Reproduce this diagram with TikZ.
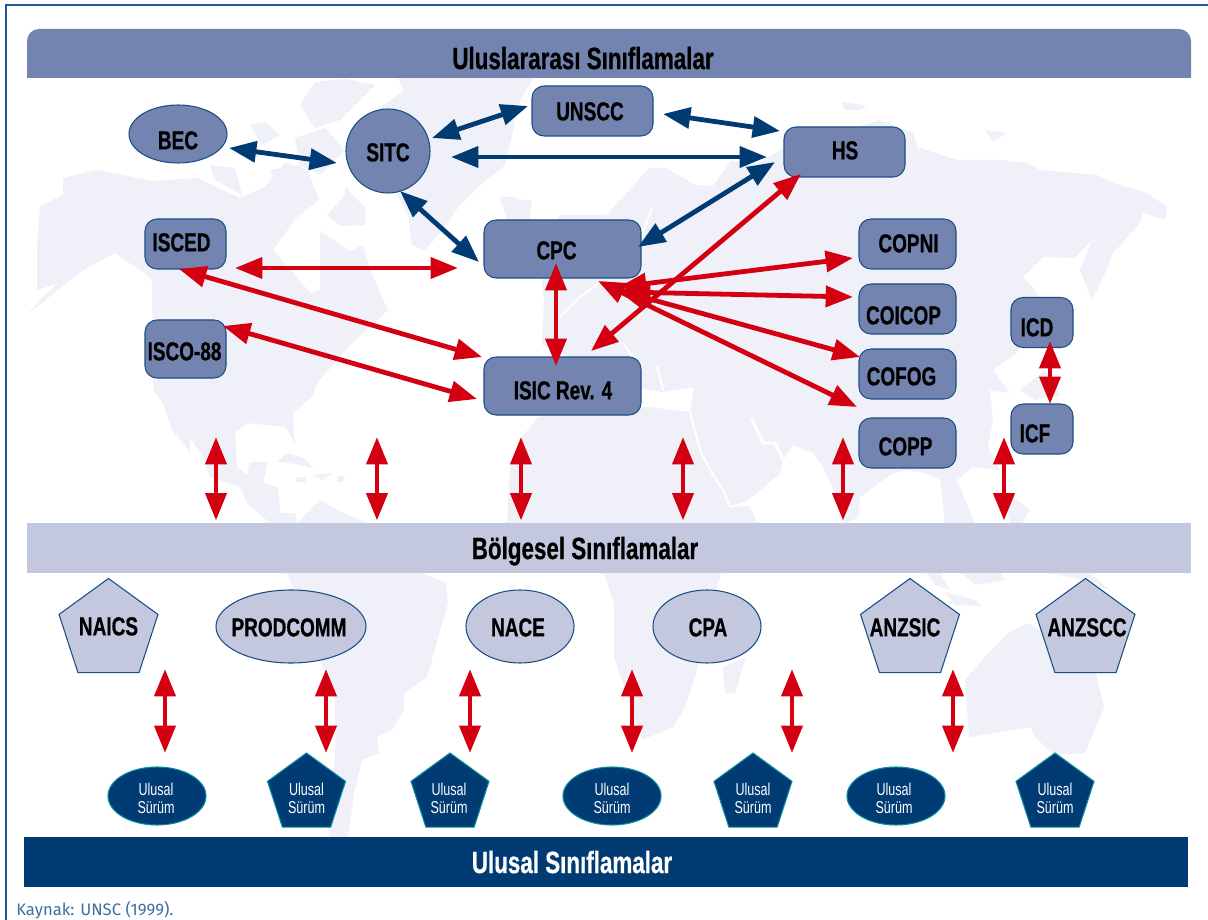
\documentclass[tikz,border=0pt]{standalone}
\usepackage{fontspec}
\usetikzlibrary{shapes.geometric,arrows.meta}
\newfontfamily\lab[FakeStretch=0.73,BoldFeatures={FakeBold=0.6}]{Liberation Sans}
\newfontfamily\srcfont{Fira Sans}
\definecolor{boxfill}{HTML}{7384B0}
\definecolor{boxline}{HTML}{1A4F85}
\definecolor{lightfill}{HTML}{C3C8DF}
\definecolor{navy}{HTML}{003B73}
\definecolor{teal2}{HTML}{0A8CA0}
\definecolor{redarrow}{HTML}{D40012}
\definecolor{land}{HTML}{EFF0F8}
\definecolor{framecol}{HTML}{1A5A96}
\definecolor{srccol}{HTML}{3F6F9F}
% text inside a node: dx, dy (px, y down) from node centre, text
\newcommand\tx[3]{\smash{\makebox[0pt][c]{\hspace*{\dimexpr #1pt*3/2\relax}\raisebox{\dimexpr -0.36em-#2pt*3/4\relax}{#3}}}}
\tikzset{
  x=0.75pt,y=-0.75pt,
  lblfont/.style={font=\lab\bfseries\fontsize{19.5}{21}\selectfont,text=black},
  natfont/.style={font=\lab\fontsize{12.9}{14}\selectfont,text=white},
  base/.style={inner sep=0pt,outer sep=0pt,line width=0.8pt},
  rbox/.style={base,lblfont,rectangle,rounded corners=9pt,draw=boxline,fill=boxfill,minimum width=#1*0.75pt,minimum height=50*0.75pt},
  rboxt/.style={base,lblfont,rectangle,rounded corners=9pt,draw=boxline,fill=boxfill,minimum width=#1*0.75pt,minimum height=58*0.75pt},
  oval/.style 2 args={base,lblfont,ellipse,draw=boxline,fill=#2,minimum width=#1*0.75pt},
  penta/.style={base,lblfont,regular polygon,regular polygon sides=5,draw=boxline,fill=lightfill,minimum size=104*0.75pt},
  natoval/.style={base,natfont,ellipse,draw=teal2,fill=navy,minimum width=98*0.75pt,minimum height=58*0.75pt},
  natpenta/.style={base,natfont,regular polygon,regular polygon sides=5,draw=teal2,fill=navy,minimum size=82*0.75pt},
  band/.style={inner sep=0pt,outer sep=0pt,minimum width=1164*0.75pt,minimum height=50*0.75pt,font=\lab\bfseries\fontsize{23}{25}\selectfont},
  navylink/.style={draw=navy,line width=3.6pt,{Triangle[length=20.5pt,width=15.5pt]}-{Triangle[length=20.5pt,width=15.5pt]},line join=miter},
  redlink/.style={draw=redarrow,line width=3.6pt,{Triangle[length=20.5pt,width=15.5pt]}-{Triangle[length=20.5pt,width=15.5pt]},line join=miter},
  landpart/.style={fill=land,draw=none},
  gap/.style={draw=white,line width=1.6pt,line join=round,line cap=round},
}
\begin{document}
\begin{tikzpicture}
\useasboundingbox (0,0) rectangle (1208,920);
\fill[white] (0,0) rectangle (1208,920);
\draw[framecol,line width=0.8pt] (6,920) -- (6,5) -- (1208,5);

% world map
\fill[landpart] (29,313) -- (38,302) -- (58,283) -- (37,290) -- (37,245) -- (40,206) -- (63,195) -- (63,178) -- (97,170) -- (153,181) -- (197,178) -- (240,198) -- (265,187) -- (285,163) -- (308,170) -- (319,200) -- (296,218) -- (273,250) -- (295,275) -- (310,293) -- (320,290) -- (320,231) -- (350,251) -- (363,245) -- (370,270) -- (388,310) -- (372,325) -- (350,345) -- (317,383) -- (312,397) -- (293,413) -- (293,423) -- (295,443) -- (285,427) -- (267,425) -- (247,423) -- (235,432) -- (237,467) -- (247,475) -- (250,462) -- (268,462) -- (263,483) -- (278,487) -- (280,513) -- (295,513) -- (297,523) -- (320,500) -- (343,513) -- (367,523) -- (270,523) -- (247,503) -- (240,487) -- (210,477) -- (203,457) -- (190,437) -- (190,452) -- (172,430) -- (163,403) -- (153,390) -- (153,370) -- (152,283) -- (150,277) -- (115,253) -- (83,270) -- (58,290) -- cycle;
\fill[landpart] (287,573) -- (294,590) -- (320,660) -- (335,700) -- (335,760) -- (327,800) -- (329,837) -- (348,837) -- (354,793) -- (362,760) -- (379,753) -- (377,737) -- (392,730) -- (404,710) -- (404,693) -- (427,677) -- (448,603) -- (446,583) -- (423,573) -- cycle;
\fill[landpart] (398,78) -- (534,78) -- (520,100) -- (513,131) -- (505,165) -- (480,185) -- (460,205) -- (440,233) -- (425,250) -- (412,245) -- (408,215) -- (395,190) -- (400,160) -- (385,140) -- (378,110) -- (404,90) -- cycle;
\fill[landpart] (300,105) -- (315,82) -- (345,79) -- (375,85) -- (360,100) -- (340,120) -- (315,128) -- cycle;
\fill[landpart] (250,125) -- (265,122) -- (280,135) -- (262,145) -- cycle;
\fill[landpart] (295,138) -- (325,128) -- (345,150) -- (320,175) -- (300,165) -- cycle;
\fill[landpart] (210,165) -- (235,168) -- (242,195) -- (215,180) -- cycle;
\fill[landpart] (270,170) -- (300,165) -- (310,190) -- (285,200) -- cycle;
\fill[landpart] (327,215) -- (345,195) -- (345,187) -- (365,208) -- (365,225) -- (340,226) -- cycle;
\fill[landpart] (500,197) -- (515,197) -- (531,220) -- (508,222) -- cycle;
% Caribbean
\fill[landpart] (277,462) -- (287,453) -- (303,458) -- (313,468) -- (290,463) -- cycle;
\fill[landpart] (312,475) -- (333,473) -- (322,480) -- cycle;
\fill[landpart] (297,477) -- (307,477) -- (305,482) -- (296,482) -- cycle;
\fill[landpart] (337,476) -- (345,476) -- (343,482) -- (337,482) -- cycle;
% Eurasia
\fill[landpart] (606,215) -- (625,195) -- (649,168) -- (666,168) -- (695,185) -- (713,186) -- (731,161) -- (756,165) -- (780,150) -- (880,120) -- (913,133) -- (917,147) -- (957,160) -- (1000,160) -- (1027,163) -- (1040,170) -- (1097,175) -- (1113,183) -- (1147,193) -- (1167,207) -- (1165,220) -- (1143,213) -- (1140,223) -- (1113,253) -- (1105,273) -- (1092,300) -- (1080,270) -- (1092,240) -- (1075,258) -- (1043,257) -- (1023,277) -- (1035,290) -- (1040,300) -- (1017,353) -- (993,370) -- (1010,393) -- (990,390) -- (993,420) -- (988,447) -- (1000,470) -- (973,467) -- (957,480) -- (965,500) -- (975,523) -- (945,523) -- (940,480) -- (925,473) -- (905,470) -- (890,475) -- (860,497) -- (858,517) -- (847,523) -- (843,522) -- (837,497) -- (823,467) -- (813,453) -- (793,445) -- (783,460) -- (780,473) -- (763,488) -- (745,502) -- (730,506) -- (723,490) -- (710,470) -- (700,450) -- (690,412) -- (694,387) -- (663,392) -- (641,388) -- (600,400) -- (560,350) -- (542,345) -- (544,300) -- (542,283) -- (545,240) -- (560,215) -- cycle;
% Africa
\fill[landpart] (538,417) -- (647,407) -- (690,412) -- (700,450) -- (710,470) -- (723,490) -- (730,508) -- (743,506) -- (750,506) -- (757,523) -- (721,523) -- (721,573) -- (696,673) -- (685,707) -- (673,727) -- (642,740) -- (614,657) -- (614,603) -- (604,573) -- (604,523) -- (507,523) -- (510,467) -- (520,440) -- cycle;
\fill[landpart] (723,667) -- (746,657) -- (735,693) -- (725,693) -- cycle;
\fill[landpart] (500,200) -- (532,200) -- (530,217) -- (510,216) -- cycle;
% Oceania and islands
\fill[landpart] (965,680) -- (985,657) -- (1008,633) -- (1027,623) -- (1060,640) -- (1096,673) -- (1104,707) -- (1085,753) -- (1054,755) -- (1035,737) -- (1031,727) -- (969,737) -- (967,707) -- cycle;
\fill[landpart] (927,573) -- (940,573) -- (950,590) -- (935,585) -- cycle;
\fill[landpart] (945,592) -- (975,600) -- (982,606) -- (955,605) -- cycle;
\fill[landpart] (962,573) -- (1000,573) -- (1005,580) -- (975,585) -- cycle;
\fill[landpart] (1050,573) -- (1090,573) -- (1110,590) -- (1085,580) -- cycle;
\fill[landpart] (1005,500) -- (1013,497) -- (1030,510) -- (1022,523) -- (1010,523) -- cycle;
\fill[landpart] (1020,390) -- (1045,370) -- (1060,395) -- (1035,400) -- cycle;
\fill[landpart] (985,130) -- (1007,133) -- (993,142) -- cycle;
\fill[landpart] (842,102) -- (867,106) -- (860,110) -- (845,110) -- cycle;
% straits
\draw[gap] (560,317) -- (580,297) -- (600,282);
\draw[gap] (652,208) -- (640,240) -- (640,250);
\draw[gap,line width=2.2pt] (752,420) -- (763,443) -- (775,443) -- (783,460);
\draw[gap] (623,343) -- (633,357);
\draw[gap] (657,367) -- (663,390);
\draw[gap] (690,412) -- (700,450) -- (710,470) -- (723,490) -- (730,507);

% bands
\fill[boxfill] (27,78) [rounded corners=9pt] -- (27,29) -- (1191,29) [sharp corners] -- (1191,78) -- cycle;
\node[band] (intl) at (609,53.5) {\tx{-26}{4.5}{Uluslararası Sınıflamalar}};
\node[band,fill=lightfill] (reg) at (609,547.5) {\tx{-24}{0.5}{Bölgesel Sınıflamalar}};
\node[band,fill=navy,text=white] (nat) at (606,862) {\tx{-34}{0}{Ulusal Sınıflamalar}};

% international classifications
\node[oval={98}{boxfill},minimum height=58*0.75pt] (BEC) at (178,134) {\tx{0}{6}{BEC}};
\node[oval={84}{boxfill},minimum height=84*0.75pt] (SITC) at (388,151) {\tx{0}{1}{SITC}};
\node[rbox=121] (UNSCC) at (592.5,111) {\tx{-2.5}{0}{UNSCC}};
\node[rbox=121] (HS) at (844.5,152) {\tx{0.5}{-2}{HS}};
\node[rboxt=157] (CPC) at (562.5,249) {\tx{-6}{1}{CPC}};
\node[rboxt=157] (ISIC) at (562.5,386) {\tx{0.5}{4}{ISIC Rev. 4}};
\node[rbox=81] (ISCED) at (185.5,244) {\tx{-4}{-2}{ISCED}};
\node[rboxt=81] (ISCO) at (185.5,349) {\tx{-1}{2}{ISCO-88}};
\node[rbox=97] (COPNI) at (907.5,244) {\tx{1}{-1}{COPNI}};
\node[rbox=97] (COICOP) at (907.5,309) {\tx{-4}{6}{COICOP}};
\node[rbox=97] (COFOG) at (907.5,374) {\tx{-6}{2}{COFOG}};
\node[rbox=97] (COPP) at (907.5,443) {\tx{-2}{3}{COPP}};
\node[rbox=62] (ICD) at (1042,322.5) {\tx{-5}{4.5}{ICD}};
\node[rbox=62] (ICF) at (1042,429) {\tx{-7}{4}{ICF}};

% regional classifications
\node[penta] (NAICS) at (108.5,630.5) {\tx{0}{-4.5}{NAICS}};
\node[oval={150}{lightfill},minimum height=73*0.75pt] (PRODCOMM) at (291,626.5) {\tx{-2}{0.5}{PRODCOMM}};
\node[oval={108}{lightfill},minimum height=73*0.75pt] (NACE) at (520,626.5) {\tx{-2}{0.5}{NACE}};
\node[oval={108}{lightfill},minimum height=73*0.75pt] (CPA) at (707,626.5) {\tx{1}{0.5}{CPA}};
\node[penta] (ANZSIC) at (910,630.5) {\tx{-5}{-3.5}{ANZSIC}};
\node[penta] (ANZSCC) at (1085.5,630.5) {\tx{1.5}{-3.5}{ANZSCC}};

% national versions
\node[natoval] (U1) at (157,796) {\tx{-1}{-7}{Ulusal}\tx{-1}{11}{Sürüm}};
\node[natpenta] (U2) at (306.5,794) {\tx{0}{-5}{Ulusal}\tx{0}{13}{Sürüm}};
\node[natpenta] (U3) at (450,794) {\tx{-1}{-5}{Ulusal}\tx{-1}{13}{Sürüm}};
\node[natoval] (U4) at (612,796) {\tx{0}{-7}{Ulusal}\tx{0}{11}{Sürüm}};
\node[natpenta] (U5) at (753,794) {\tx{0}{-5}{Ulusal}\tx{0}{13}{Sürüm}};
\node[natoval] (U6) at (896,796) {\tx{-2}{-7}{Ulusal}\tx{-2}{11}{Sürüm}};
\node[natpenta] (U7) at (1055,794) {\tx{0}{-5}{Ulusal}\tx{0}{13}{Sürüm}};

% navy links
\draw[navylink] ([shift={(51,14)}]BEC.center) -- ([shift={(-51,12)}]SITC.center);
\draw[navylink] ([shift={(44,-13)}]SITC.center) -- ([shift={(-64.5,-5)}]UNSCC.center);
\draw[navylink] ([shift={(63,6)}]SITC.center) -- ([shift={(-77.5,5)}]HS.center);
\draw[navylink] ([shift={(70.5,3)}]UNSCC.center) -- ([shift={(-64.5,-21)}]HS.center);
\draw[navylink] ([shift={(12,40)}]SITC.center) -- ([shift={(-83.5,13)}]CPC.center);
\draw[navylink] ([shift={(75.5,-2)}]CPC.center) -- ([shift={(-69.5,10)}]HS.center);

% red links
\draw[redlink] ([shift={(28.5,-35)}]ISIC.center) -- ([shift={(-43.5,22)}]HS.center);
\draw[redlink] ([shift={(49.5,24)}]ISCED.center) -- ([shift={(-104.5,19)}]CPC.center);
\draw[redlink] ([shift={(-6.5,25)}]ISCED.center) -- ([shift={(-80.5,-29)}]ISIC.center);
\draw[redlink] ([shift={(37.5,-23)}]ISCO.center) -- ([shift={(-85.5,13)}]ISIC.center);
\draw[redlink] ([shift={(-6.5,14)}]CPC.center) -- ([shift={(-6.5,-20)}]ISIC.center);
\draw[redlink] ([shift={(56.5,38)}]CPC.center) -- ([shift={(-54.5,14)}]COPNI.center);
\draw[redlink] ([shift={(60.5,43)}]CPC.center) -- ([shift={(-54.5,-12)}]COICOP.center);
\draw[redlink] ([shift={(54.5,41)}]CPC.center) -- ([shift={(-47.5,-17)}]COFOG.center);
\draw[redlink] ([shift={(35.5,32)}]CPC.center) -- ([shift={(-50.5,-36)}]COPP.center);
\draw[redlink] ([shift={(8,18.5)}]ICD.center) -- ([shift={(8,-25)}]ICF.center);

% international to regional
\coordinate (t1) at (216,437);
\coordinate (t2) at (377,437);
\coordinate (t3) at (521,437);
\coordinate (t4) at (683,437);
\coordinate (t5) at (843,437);
\coordinate (t6) at (1004,437);
\draw[redlink] (t1) -- ([shift={(-393,-2)}]reg.north);
\draw[redlink] (t2) -- ([shift={(-232,-2)}]reg.north);
\draw[redlink] (t3) -- ([shift={(-88,-2)}]reg.north);
\draw[redlink] (t4) -- ([shift={(74,-2)}]reg.north);
\draw[redlink] (t5) -- ([shift={(234,-2)}]reg.north);
\draw[redlink] (t6) -- ([shift={(395,-2)}]reg.north);

% regional to national
\draw[redlink] ([shift={(56.5,38.5)}]NAICS.center) -- ([shift={(8,-43)}]U1.center);
\draw[redlink] ([shift={(35,42.5)}]PRODCOMM.center) -- ([shift={(19.5,-41)}]U2.center);
\draw[redlink] ([shift={(-50,42.5)}]NACE.center) -- ([shift={(20,-41)}]U3.center);
\draw[redlink] ([shift={(-75,42.5)}]CPA.center) -- ([shift={(20,-43)}]U4.center);
\draw[redlink] ([shift={(85,42.5)}]CPA.center) -- ([shift={(39,-41)}]U5.center);
\draw[redlink] ([shift={(43,38.5)}]ANZSIC.center) -- ([shift={(57,-43)}]U6.center);

\node[anchor=west,inner sep=0pt,text=srccol,font=\srcfont\fontsize{12.5}{14}\selectfont] (src) at (16,910) {Kaynak: UNSC (1999).};
\end{tikzpicture}
\end{document}
